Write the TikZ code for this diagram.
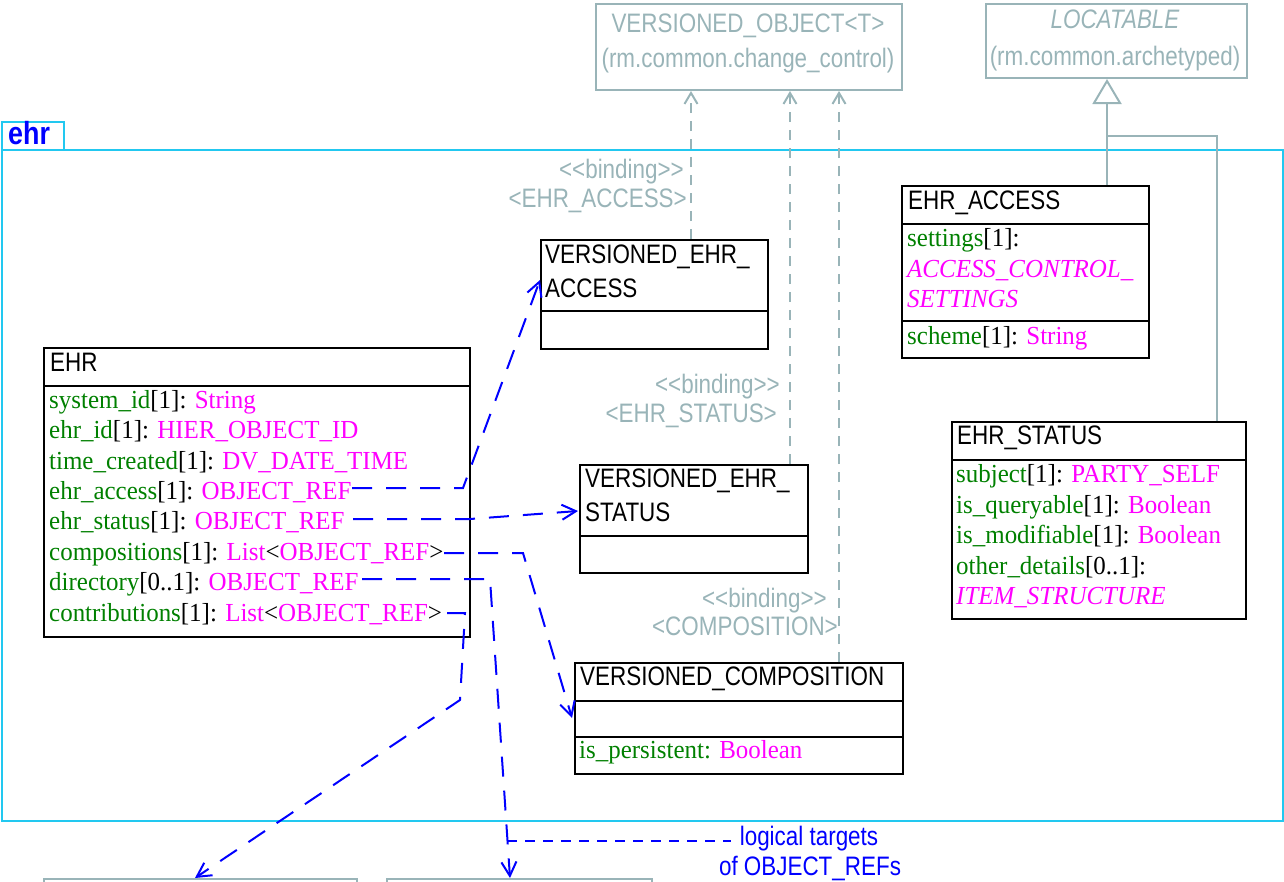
\documentclass[tikz,border=0pt]{standalone}
\usepackage{fontspec}
\setmainfont{Liberation Serif}[FakeStretch=0.96]
\setsansfont{Liberation Sans}[FakeStretch=0.84]
\usetikzlibrary{arrows.meta,calc}
\definecolor{ugray}{RGB}{153,180,184}
\definecolor{pkgcyan}{RGB}{34,200,240}
\definecolor{agreen}{RGB}{0,128,0}
\definecolor{amag}{RGB}{255,0,255}
\newcommand\myss{\sffamily\fontsize{26.7}{30}\selectfont}
\newcommand\myrm{\rmfamily\fontsize{26}{30}\selectfont}
\newcommand\anm[1]{\textcolor{agreen}{#1}}
\newcommand\aty[1]{\textcolor{amag}{#1}}
\newcommand\bindlbl{\textless\kern0pt\textless\kern0pt binding\textgreater\kern0pt\textgreater}
\tikzset{
  cls/.style={draw=black, line width=2pt, anchor=north west, inner sep=0pt},
  gbox/.style={draw=ugray, line width=2pt, anchor=north west, inner sep=0pt},
  pkgbox/.style={draw=pkgcyan, line width=2.2pt, anchor=north west, inner sep=0pt},
  sepline/.style={draw=black, line width=1.6pt},
  ttl/.style={anchor=base west, inner sep=0pt, font=\myss},
  att/.style={anchor=base west, inner sep=0pt, font=\myrm},
  gtxt/.style={anchor=base, inner sep=0pt, text=ugray, font=\myss},
  glbl/.style={anchor=base east, inner sep=0pt, text=ugray, font=\myss},
  btxt/.style={anchor=base, inner sep=0pt, text=blue, font=\myss},
  bdash/.style={draw=blue, line width=2pt, dash pattern=on 20pt off 14pt, -{Straight Barb[length=14pt,width=15pt]}},
  ldash/.style={draw=blue, line width=2pt, dash pattern=on 10pt off 8pt},
  gdash/.style={draw=ugray, line width=2pt, dash pattern=on 10pt off 8pt, -{Straight Barb[length=11pt,width=13pt]}},
  gline/.style={draw=ugray, line width=2pt},
  inh/.style={draw=ugray, line width=2.5pt, -{Triangle[open, length=25pt, width=29pt, line width=2pt]}},
}
\begin{document}
\begin{tikzpicture}[x=1pt,y=-1pt]
\useasboundingbox (0,0) rectangle (1284,881);

% package ehr
\node[pkgbox, minimum width=1281pt, minimum height=671pt] (pkg) at (1,149) {};
\node[pkgbox, minimum width=62pt, minimum height=28pt] (tab) at (1,121) {};
\node[anchor=base west, inner sep=0pt, text=blue, font=\sffamily\bfseries\fontsize{32}{32}\selectfont] (pkgname) at (8,144) {ehr};

% external gray classes
\node[gbox, minimum width=306pt, minimum height=86pt] (vo) at (595,3) {};
\node[gtxt] (voname) at (748,32) {VERSIONED\_OBJECT\textless T\textgreater};
\node[gtxt] (vopkg) at (748,67) {(rm.common.change\_control)};
\node[gbox, minimum width=261pt, minimum height=74pt] (loc) at (985,3) {};
\node[gtxt, font=\myss\itshape] (locname) at (1115,28) {LOCATABLE};
\node[gtxt] (locpkg) at (1115,65) {(rm.common.archetyped)};
\node[gbox, minimum width=313pt, minimum height=30pt] (tgtA) at (43,878) {};
\node[gbox, minimum width=265pt, minimum height=30pt] (tgtB) at (386,878) {};

% VERSIONED_EHR_ACCESS
\node[cls, minimum width=227pt, minimum height=109pt] (vea) at (540,239) {};
\draw[sepline, line width=1.2pt] ($(vea.north west)+(0,72)$) -- ($(vea.north east)+(0,72)$);
\node[ttl] (veat1) at (545,263) {VERSIONED\_EHR\_};
\node[ttl] (veat2) at (545,297) {ACCESS};

% VERSIONED_EHR_STATUS
\node[cls, minimum width=228pt, minimum height=108pt] (ves) at (579,464) {};
\draw[sepline] ($(ves.north west)+(0,72)$) -- ($(ves.north east)+(0,72)$);
\node[ttl] (vest1) at (585,487) {VERSIONED\_EHR\_};
\node[ttl] (vest2) at (585,521) {STATUS};

% VERSIONED_COMPOSITION
\node[cls, minimum width=328pt, minimum height=111pt] (vc) at (574,662) {};
\draw[sepline] ($(vc.north west)+(0,39)$) -- ($(vc.north east)+(0,39)$);
\draw[sepline] ($(vc.north west)+(0,75)$) -- ($(vc.north east)+(0,75)$);
\node[ttl] (vct) at (580,685) {VERSIONED\_COMPOSITION};
\node[att] (vca1) at (579,758) {\anm{is\_persistent:} \aty{Boolean}};

% EHR
\node[cls, minimum width=426pt, minimum height=289pt] (ehr) at (43,347) {};
\draw[sepline] ($(ehr.north west)+(0,39)$) -- ($(ehr.north east)+(0,39)$);
\node[ttl] (ehrt) at (50,371) {EHR};
\node[att] (e1) at (49,408) {\anm{system\_id}[1]: \aty{String}};
\node[att] (e2) at (49,438.5) {\anm{ehr\_id}[1]: \aty{HIER\_OBJECT\_ID}};
\node[att] (e3) at (49,469) {\anm{time\_created}[1]: \aty{DV\_DATE\_TIME}};
\node[att] (e4) at (49,499) {\anm{ehr\_access}[1]: \aty{OBJECT\_REF}};
\node[att] (e5) at (49,529.5) {\anm{ehr\_status}[1]: \aty{OBJECT\_REF}};
\node[att] (e6) at (49,560) {\anm{compositions}[1]: \aty{List}\textless\aty{OBJECT\_REF}\textgreater};
\node[att] (e7) at (49,590.5) {\anm{directory}[0..1]: \aty{OBJECT\_REF}};
\node[att] (e8) at (49,621) {\anm{contributions}[1]: \aty{List}\textless\aty{OBJECT\_REF}\textgreater};

% EHR_ACCESS
\node[cls, minimum width=247pt, minimum height=172pt] (ea) at (901,185) {};
\draw[sepline] ($(ea.north west)+(0,39)$) -- ($(ea.north east)+(0,39)$);
\draw[sepline] ($(ea.north west)+(0,136)$) -- ($(ea.north east)+(0,136)$);
\node[ttl] (eat) at (908,209) {EHR\_ACCESS};
\node[att] (ea1) at (907,246) {\anm{settings}[1]:};
\node[att] (ea2) at (907,277) {\textcolor{amag}{\itshape ACCESS\_CONTROL\_}};
\node[att] (ea3) at (907,307) {\textcolor{amag}{\itshape SETTINGS}};
\node[att] (ea4) at (907,344) {\anm{scheme}[1]: \aty{String}};

% EHR_STATUS
\node[cls, minimum width=294pt, minimum height=197pt] (es) at (951,421) {};
\draw[sepline] ($(es.north west)+(0,39)$) -- ($(es.north east)+(0,39)$);
\node[ttl] (est) at (957,444) {EHR\_STATUS};
\node[att] (es1) at (956,482) {\anm{subject}[1]: \aty{PARTY\_SELF}};
\node[att] (es2) at (956,513) {\anm{is\_queryable}[1]: \aty{Boolean}};
\node[att] (es3) at (956,543) {\anm{is\_modifiable}[1]: \aty{Boolean}};
\node[att] (es4) at (956,574) {\anm{other\_details}[0..1]:};
\node[att] (es5) at (956,604) {\textcolor{amag}{\itshape ITEM\_STRUCTURE}};

% inheritance from LOCATABLE
\coordinate (i1) at ($(ea.north west)+(206,0)$);
\draw[inh] (i1) -- (i1 |- loc.south);
\coordinate (i2) at ($(es.north east)+(-30,0)$);
\coordinate (ij) at (1107,136);
\draw[gline] (i2) |- (ij);

% binding dependencies to VERSIONED_OBJECT<T>
\coordinate (g1) at ($(vea.north east)+(-78,0)$);
\draw[gdash] (g1) -- (g1 |- vo.south);
\coordinate (g2) at ($(ves.north east)+(-19,0)$);
\draw[gdash] (g2) -- (g2 |- vo.south);
\coordinate (g3) at ($(vc.north east)+(-65,0)$);
\draw[gdash] (g3) -- (g3 |- vo.south);
\node[glbl] (b1a) at (684,178) {\bindlbl};
\node[glbl] (b1b) at (687,207) {\textless EHR\_ACCESS\textgreater};
\node[glbl] (b2a) at (780,393) {\bindlbl};
\node[glbl] (b2b) at (777,422) {\textless EHR\_STATUS\textgreater};
\node[glbl] (b3a) at (827,607) {\bindlbl};
\node[glbl] (b3b) at (838,635) {\textless COMPOSITION\textgreater};

% OBJECT_REF connectors
\coordinate (s1) at (352,488);
\draw[bdash] (s1) -- (463,488) -- ($(vea.north west)+(0,41)$);
\coordinate (s2) at (353,519);
\draw[bdash] (s2) -- (470,519) -- ($(ves.north west)+(-1,47)$);
\coordinate (s3) at (444,553);
\draw[bdash] (s3) -- (523,553) -- ($(vc.north west)+(-2,56)$);
\coordinate (s4) at (362,579);
\draw[bdash] (s4) -- (490,579) -- ($(tgtB.north west)+(124,0)$);
\coordinate (s5) at (447,613);
\draw[bdash] (s5) -- (465,613) -- (460,700) -- ($(tgtA.north west)+(152,0)$);

% note
\node[btxt] (lt1) at (809,845) {logical targets};
\node[btxt] (lt2) at (810,875) {of OBJECT\_REFs};
\coordinate (dirpt) at (507,841);
\draw[ldash] (dirpt) -- ($(dirpt -| lt1.west)+(-9,0)$);
\end{tikzpicture}
\end{document}
